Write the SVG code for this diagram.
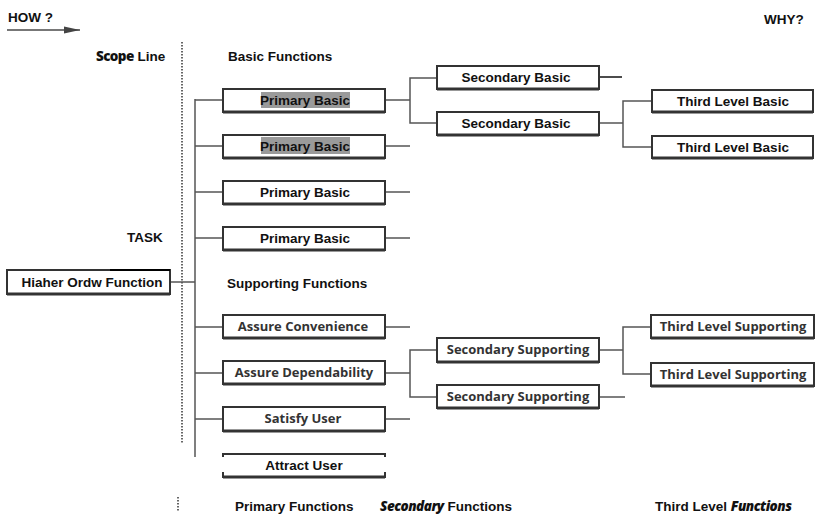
<svg xmlns="http://www.w3.org/2000/svg" width="815" height="519" viewBox="0 0 815 519">
  <style>
    .bg { fill: #ffffff; }
    .box { fill: #ffffff; stroke: #333333; stroke-width: 2; }
    .shadow { stroke: #333333; stroke-width: 3; fill: none; }
    .wire { stroke: #555555; stroke-width: 1.5; fill: none; }
    .scope { stroke: #666666; stroke-width: 2; stroke-dasharray: 1.5 1.5; fill: none; }
    .lbl { font-family: "Liberation Sans", Arial, sans-serif; font-weight: bold; font-size: 13.5px; fill: #111111; }
    .node { font-family: "Liberation Sans", Arial, sans-serif; font-weight: bold; font-size: 13.5px; fill: #111111; text-anchor: middle; }
    .sup { font-family: "Open Sans", "Liberation Sans", sans-serif; font-weight: bold; font-size: 13px; fill: #333333; text-anchor: middle; }
    .hl { fill: #9a9a9a; }
  </style>
  <defs>
    <marker id="arrowhead" viewBox="0 0 16 8" refX="16" refY="4" markerWidth="16" markerHeight="8" orient="auto" markerUnits="userSpaceOnUse">
      <path d="M0,0.5 L16,4 L0,7.5 Z" fill="#444444"/>
    </marker>
  </defs>
  <rect class="bg" x="0" y="0" width="815" height="519"/>

  <!-- headings -->
  <g id="headings">
    <text class="lbl" x="8" y="22" font-size="12">HOW ?</text>
    <line x1="7" y1="30" x2="80" y2="30" stroke="#777777" stroke-width="2" marker-end="url(#arrowhead)"/>
    <text class="lbl" x="764" y="24" font-size="10.5" fill="#333333">WHY?</text>
    <text class="lbl" x="96" y="61"><tspan font-family="'Open Sans', sans-serif" font-weight="800" letter-spacing="-0.6">Scope</tspan> Line</text>
    <text class="lbl" x="228" y="61">Basic Functions</text>
    <text class="lbl" x="127" y="242">TASK</text>
    <text class="lbl" x="227" y="288" font-size="14">Supporting Functions</text>
    <text class="lbl" x="235" y="511">Primary Functions</text>
    <text class="lbl" x="380" y="511"><tspan font-style="italic" font-family="'Open Sans', sans-serif" font-weight="800" letter-spacing="-0.5">Secondary</tspan> Functions</text>
    <text class="lbl" x="655" y="511">Third Level <tspan font-style="italic" font-family="'Open Sans', sans-serif" font-weight="800" letter-spacing="-0.5">Functions</tspan></text>
  </g>

  <!-- scope line -->
  <g id="scope-line">
    <line class="scope" x1="182" y1="42" x2="182" y2="444"/>
    <line class="scope" x1="178" y1="497" x2="178" y2="512"/>
  </g>

  <!-- connectors -->
  <g id="connectors">
    <!-- primary trunk -->
    <line class="wire" x1="195" y1="99" x2="195" y2="457"/>
    <line class="wire" x1="170" y1="282" x2="195" y2="282"/>
    <line class="wire" x1="195" y1="100" x2="223" y2="100"/>
    <line class="wire" x1="195" y1="146" x2="223" y2="146"/>
    <line class="wire" x1="195" y1="192" x2="223" y2="192"/>
    <line class="wire" x1="195" y1="238" x2="223" y2="238"/>
    <line class="wire" x1="195" y1="327" x2="223" y2="327"/>
    <line class="wire" x1="195" y1="373" x2="223" y2="373"/>
    <line class="wire" x1="195" y1="419" x2="223" y2="419"/>
    <!-- basic branches -->
    <line class="wire" x1="385" y1="100" x2="410" y2="100"/>
    <polyline class="wire" points="437,78 410,78 410,123 437,123"/>
    <line class="wire" x1="385" y1="146" x2="410" y2="146" stroke="#999999"/>
    <line class="wire" x1="385" y1="192" x2="410" y2="192"/>
    <line class="wire" x1="385" y1="238" x2="410" y2="238"/>
    <line x1="599" y1="77" x2="622" y2="77" stroke="#111111" stroke-width="1.5"/>
    <line class="wire" x1="599" y1="123" x2="623" y2="123"/>
    <polyline class="wire" points="652,101 623,101 623,147 652,147"/>
    <!-- supporting branches -->
    <line class="wire" x1="385" y1="327" x2="410" y2="327"/>
    <line class="wire" x1="385" y1="373" x2="410" y2="373"/>
    <polyline class="wire" points="437,350 410,350 410,397 437,397"/>
    <line class="wire" x1="385" y1="419" x2="410" y2="419"/>
    <line class="wire" x1="599" y1="350" x2="623" y2="350"/>
    <polyline class="wire" points="651,327 623,327 623,374 651,374"/>
    <line class="wire" x1="599" y1="397" x2="625" y2="397"/>
  </g>

  <!-- higher order function -->
  <g id="higher-order">
    <rect class="box" x="7" y="270" width="163" height="24" stroke="#444444"/>
    <line class="shadow" x1="7" y1="294" x2="170" y2="294"/>
    <line x1="110" y1="270" x2="170" y2="270" stroke="#000000" stroke-width="2"/>
    <text class="node" x="92" y="287" font-size="14">Hiaher Ordw Function</text>
  </g>

  <!-- primary basic -->
  <g id="primary-basic-1">
    <rect class="box" x="223" y="89" width="162" height="23"/>
    <line class="shadow" x1="223" y1="112" x2="385" y2="112"/>
    <rect class="hl" x="261" y="92" width="89" height="16"/>
    <text class="node" x="305" y="105">Primary Basic</text>
  </g>
  <g id="primary-basic-2">
    <rect class="box" x="223" y="135" width="162" height="23"/>
    <line class="shadow" x1="223" y1="158" x2="385" y2="158"/>
    <rect class="hl" x="261" y="137" width="89" height="17"/>
    <text class="node" x="305" y="151">Primary Basic</text>
  </g>
  <g id="primary-basic-3">
    <rect class="box" x="223" y="181" width="162" height="23"/>
    <line class="shadow" x1="223" y1="204" x2="385" y2="204"/>
    <text class="node" x="305" y="197" fill="#555555">Primary Basic</text>
  </g>
  <g id="primary-basic-4">
    <rect class="box" x="223" y="227" width="162" height="23"/>
    <line class="shadow" x1="223" y1="250" x2="385" y2="250"/>
    <text class="node" x="305" y="243">Primary Basic</text>
  </g>

  <!-- secondary basic -->
  <g id="secondary-basic-1">
    <rect class="box" x="437" y="66" width="162" height="23"/>
    <line class="shadow" x1="437" y1="89" x2="599" y2="89"/>
    <text class="node" x="516" y="82">Secondary Basic</text>
  </g>
  <g id="secondary-basic-2">
    <rect class="box" x="437" y="112" width="162" height="23"/>
    <line class="shadow" x1="437" y1="135" x2="599" y2="135"/>
    <text class="node" x="516" y="128">Secondary Basic</text>
  </g>

  <!-- third level basic -->
  <g id="third-basic-1">
    <rect class="box" x="652" y="90" width="161" height="22"/>
    <line class="shadow" x1="652" y1="112" x2="813" y2="112"/>
    <text class="node" x="733" y="106">Third Level Basic</text>
  </g>
  <g id="third-basic-2">
    <rect class="box" x="652" y="136" width="161" height="22"/>
    <line class="shadow" x1="652" y1="158" x2="813" y2="158"/>
    <text class="node" x="733" y="152">Third Level Basic</text>
  </g>

  <!-- primary supporting -->
  <g id="assure-convenience">
    <rect class="box" x="223" y="315" width="162" height="23"/>
    <line class="shadow" x1="223" y1="338" x2="385" y2="338"/>
    <text class="sup" x="303" y="331">Assure Convenience</text>
  </g>
  <g id="assure-dependability">
    <rect class="box" x="223" y="361" width="162" height="23"/>
    <line class="shadow" x1="223" y1="384" x2="385" y2="384"/>
    <text class="sup" x="304" y="377">Assure Dependability</text>
  </g>
  <g id="satisfy-user">
    <rect class="box" x="223" y="407" width="162" height="24"/>
    <line class="shadow" x1="223" y1="431" x2="385" y2="431"/>
    <text class="sup" x="303" y="423">Satisfy User</text>
  </g>
  <g id="attract-user">
    <rect class="box" x="223" y="454" width="162" height="23"/>
    <line class="shadow" x1="223" y1="477" x2="385" y2="477"/>
    <rect x="222" y="457" width="164" height="15" fill="#ffffff"/>
    <text class="node" x="304" y="470">Attract User</text>
  </g>

  <!-- secondary supporting -->
  <g id="secondary-supporting-1">
    <rect class="box" x="437" y="338" width="162" height="24"/>
    <line class="shadow" x1="437" y1="362" x2="599" y2="362"/>
    <text class="sup" x="518" y="354">Secondary Supporting</text>
  </g>
  <g id="secondary-supporting-2">
    <rect class="box" x="437" y="385" width="162" height="23"/>
    <line class="shadow" x1="437" y1="408" x2="599" y2="408"/>
    <text class="sup" x="518" y="401">Secondary Supporting</text>
  </g>

  <!-- third level supporting -->
  <g id="third-supporting-1">
    <rect class="box" x="651" y="315" width="163" height="23"/>
    <line class="shadow" x1="651" y1="338" x2="814" y2="338"/>
    <text class="sup" x="733" y="331">Third Level Supporting</text>
  </g>
  <g id="third-supporting-2">
    <rect class="box" x="651" y="363" width="163" height="23"/>
    <line class="shadow" x1="651" y1="386" x2="814" y2="386"/>
    <text class="sup" x="733" y="379">Third Level Supporting</text>
  </g>
</svg>
